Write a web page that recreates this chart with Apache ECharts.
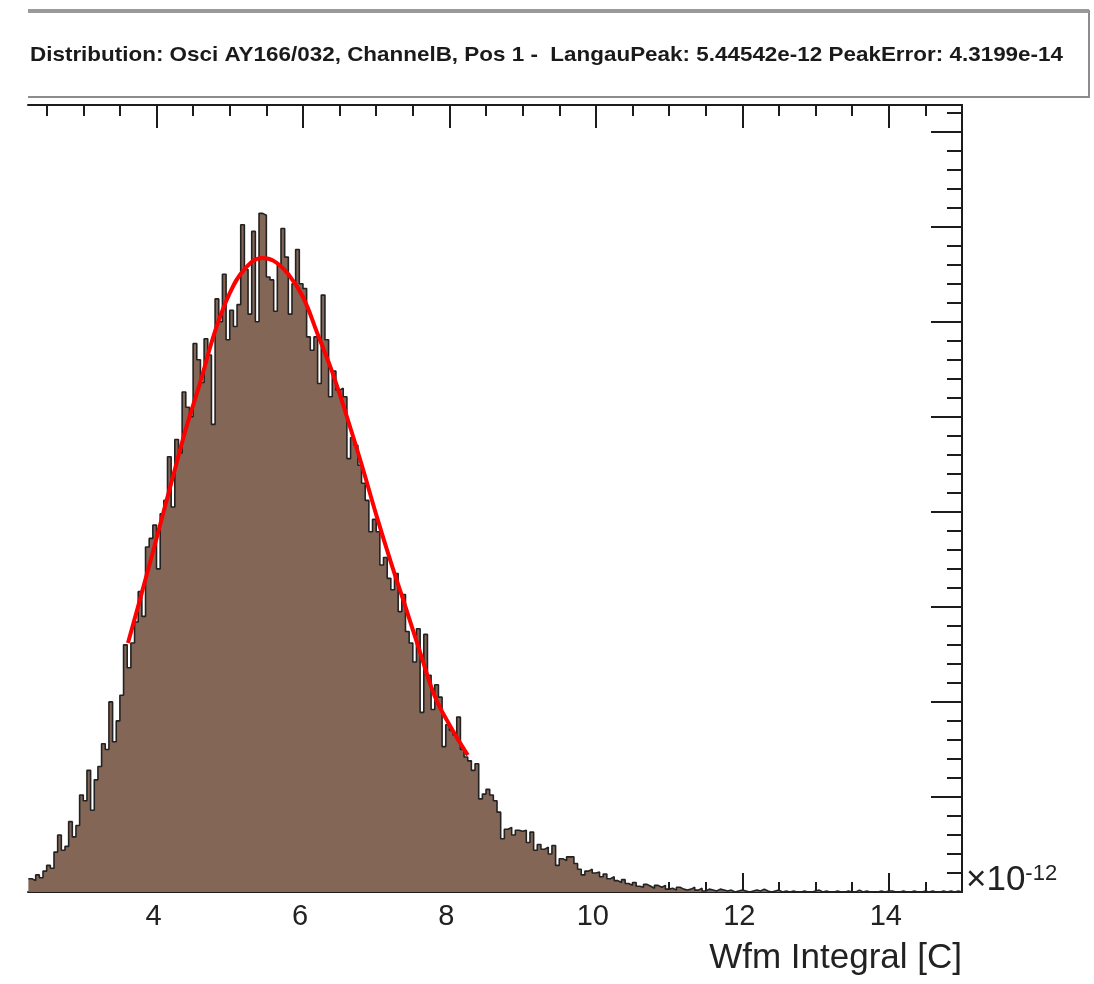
<!DOCTYPE html>
<html>
<head>
<meta charset="utf-8">
<title>Wfm Integral distribution</title>
<script src="https://cdn.jsdelivr.net/npm/echarts@6/dist/echarts.min.js"></script>
<style>
  html, body { margin: 0; padding: 0; background: #fff; }
  #chart { width: 1094px; height: 984px; }
</style>
</head>
<body>
<div id="chart"></div>
<script>
// histogram, x in units of 1e-12 C, bins of 0.05 starting at 2.25
const binStart = 2.25;
const binWidth = 0.05;
const histCounts = [
  14, 12, 18, 15, 22, 28, 25, 42, 60, 44,
  48, 74, 58, 70, 102, 96, 128, 86, 118, 132,
  156, 150, 200, 158, 180, 207, 260, 236, 262, 284,
  316, 290, 363, 372, 386, 340, 398, 412, 458, 405,
  476, 462, 526, 510, 500, 577, 560, 536, 582, 565,
  492, 624, 600, 650, 581, 612, 595, 618, 702, 655,
  608, 695, 600, 714, 712, 647, 644, 611, 660, 698,
  668, 608, 640, 676, 640, 635, 584, 570, 584, 535,
  628, 581, 521, 548, 528, 530, 521, 456, 478, 470,
  449, 430, 412, 379, 392, 379, 344, 352, 330, 318,
  335, 295, 313, 274, 262, 242, 277, 189, 271, 228,
  192, 218, 205, 153, 176, 170, 165, 184, 150, 142,
  138, 128, 135, 98, 103, 108, 102, 96, 84, 56,
  66, 68, 60, 65, 64, 65, 52, 63, 44, 50,
  45, 47, 40, 49, 28, 35, 33, 37, 37, 30,
  24, 18, 22, 24, 20, 21, 16, 19, 14, 16,
  12, 10, 13, 9, 7, 10, 6, 5, 8, 6,
  4, 7, 5, 7, 3, 4, 2, 5, 3, 2,
  3, 5, 2, 4, 1, 3, 2, 1, 3, 2,
  1, 2, 0, 1, 2, 1, 0, 1, 2, 1,
  3, 1, 0, 1, 2, 0, 1, 0, 1, 0,
  0, 1, 0, 0, 1, 2, 0, 1, 0, 0,
  1, 0, 0, 1, 0, 0, 2, 0, 1, 0,
  0, 0, 1, 0, 1, 1, 0, 0, 1, 0,
  0, 1, 0, 0, 1, 0, 1, 0, 0, 1,
  0, 1, 0, 1, 0
];

// Langau fit (red curve)
const fitX = [3.61, 3.80, 4.00, 4.20, 4.40, 4.60, 4.80, 5.00, 5.20, 5.44, 5.60, 5.80,
              6.00, 6.20, 6.40, 6.60, 6.80, 7.00, 7.20, 7.40, 7.60, 7.80, 8.00, 8.25];
const fitY = [262, 315, 372, 430, 487, 537, 590, 630, 655, 667, 664, 650,
              626, 587, 547, 500, 450, 397, 347, 300, 252, 206, 176, 144];

const xMin = 2.245;
const xMax = 15;
const xMajorTicks = [4, 6, 8, 10, 12, 14];
const xMinorTicks = [2.5, 3, 3.5, 4.5, 5, 5.5, 6.5, 7, 7.5, 8.5, 9, 9.5,
                     10.5, 11, 11.5, 12.5, 13, 13.5, 14.5];
const yMax = 828;
const yMajorTicks = [0, 100, 200, 300, 400, 500, 600, 700, 800];

const titleText = 'Distribution: Osci AY166/032, ChannelB, Pos 1 -  LangauPeak: 5.44542e-12 PeakError: 4.3199e-14';
const xTitle = 'Wfm Integral [C]';

// minor y ticks: 4 between majors
const yMinorTicks = [];
for (let v = 20; v < yMax; v += 20) {
  if (v % 100 !== 0) yMinorTicks.push(v);
}

const histData = histCounts.map((c, i) => [+(binStart + i * binWidth).toFixed(3), c]);
histData.push([+(binStart + histCounts.length * binWidth).toFixed(3), histCounts[histCounts.length - 1]]);
const fitData = fitX.map((x, i) => [x, fitY[i]]);

// the original title is a narrow bold face: squeeze it into the same width
const titleFont = 'bold 21px "Liberation Sans"';
const ctx = document.createElement('canvas').getContext('2d');
ctx.font = titleFont;
const titleScaleX = 1033 / ctx.measureText(titleText).width;

const ink = '#1c1c1c';
const font = 'Liberation Sans';

function xAxisDef(position, ticks, len, withLine, withLabel) {
  return {
    type: 'value', min: xMin, max: xMax, position: position,
    axisLine: { show: withLine, onZero: false, lineStyle: { color: ink, width: 2 } },
    axisTick: { show: true, inside: true, length: len, customValues: ticks,
                lineStyle: { color: ink, width: 2 } },
    axisLabel: withLabel
      ? { show: true, customValues: ticks, margin: 10, fontSize: 29, fontFamily: font,
          color: '#222', padding: [0, 6, 0, 0] }
      : { show: false },
    splitLine: { show: false }
  };
}

function yAxisDef(ticks, len, withLine) {
  return {
    type: 'value', min: 0, max: yMax, position: 'right',
    axisLine: { show: withLine, onZero: false, lineStyle: { color: ink, width: 2 } },
    axisTick: { show: true, inside: true, length: len, customValues: ticks,
                lineStyle: { color: ink, width: 2 } },
    axisLabel: { show: false },
    splitLine: { show: false }
  };
}

const chart = echarts.init(document.getElementById('chart'), null, { renderer: 'canvas' });

chart.setOption({
  animation: false,
  backgroundColor: '#fff',
  grid: { left: 28, top: 105, right: 132, bottom: 92 },
  xAxis: [
    xAxisDef('bottom', xMajorTicks, 19, true, true),
    xAxisDef('bottom', xMinorTicks, 10, false, false),
    xAxisDef('top', xMajorTicks, 23, true, false),
    xAxisDef('top', xMinorTicks, 11, false, false)
  ],
  yAxis: [
    yAxisDef(yMajorTicks, 31, true),
    yAxisDef(yMinorTicks, 15, false)
  ],
  series: [
    {
      name: 'hist',
      type: 'line',
      step: 'end',
      xAxisIndex: 0,
      yAxisIndex: 0,
      data: histData,
      symbol: 'none',
      lineStyle: { color: '#222', width: 1.6 },
      areaStyle: { color: '#836656', opacity: 1 },
      z: 2
    },
    {
      name: 'langau',
      type: 'line',
      xAxisIndex: 0,
      yAxisIndex: 0,
      data: fitData,
      smooth: 0.4,
      symbol: 'none',
      lineStyle: { color: '#ff0000', width: 4 },
      z: 3
    }
  ],
  graphic: [
    {
      type: 'polyline',
      shape: { points: [[28, 11], [1089, 11], [1089, 97], [28, 97]] },
      style: { fill: null, stroke: '#8c8c8c', lineWidth: 2 }
    },
    {
      type: 'line',
      shape: { x1: 28, y1: 11, x2: 1089, y2: 11 },
      style: { stroke: '#9a9a9a', lineWidth: 4 }
    },
    {
      type: 'text',
      x: 30, y: 55,
      scaleX: titleScaleX,
      style: { text: titleText, font: titleFont, fill: '#1a1a1a', verticalAlign: 'middle' }
    },
    {
      type: 'text',
      x: 962, y: 958,
      style: { text: xTitle, font: '35px "Liberation Sans"', fill: '#222',
               align: 'right', verticalAlign: 'middle' }
    },
    {
      type: 'text',
      x: 966, y: 898,
      style: {
        text: '{b|×10}{s|-12}',
        verticalAlign: 'bottom',
        rich: {
          b: { fontSize: 35, fontFamily: font, fill: '#222', verticalAlign: 'bottom' },
          s: { fontSize: 22, fontFamily: font, fill: '#222', verticalAlign: 'top' }
        }
      }
    }
  ]
});
</script>
</body>
</html>
